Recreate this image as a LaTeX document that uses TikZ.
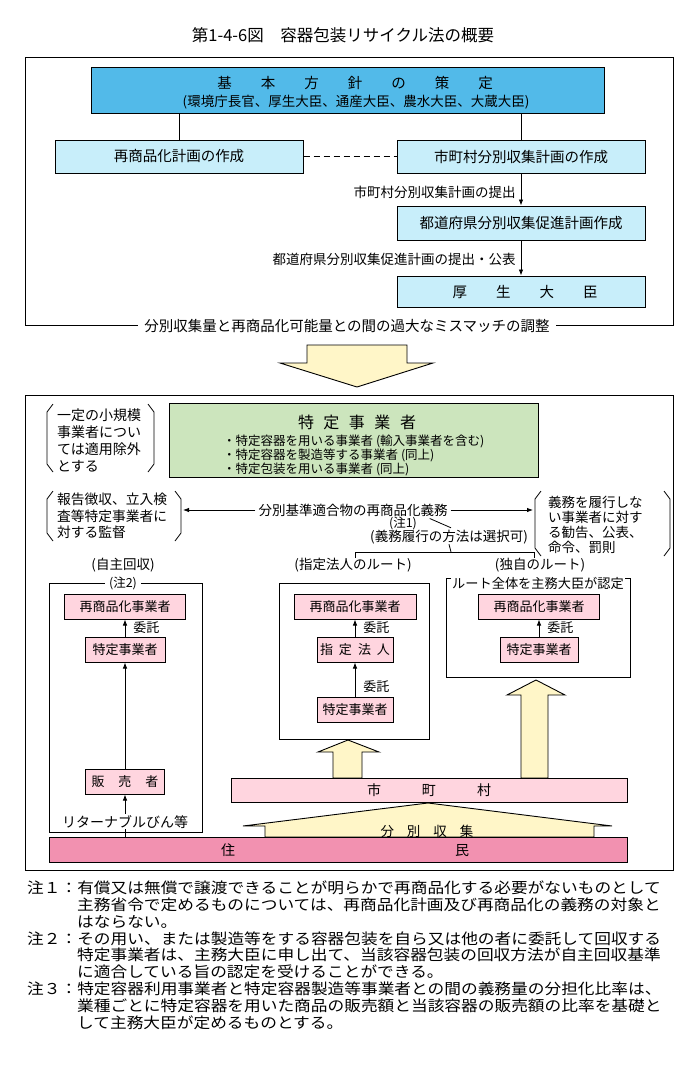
\documentclass[tikz,border=0pt]{standalone}
\usepackage{fontspec}
\setmainfont{Noto Sans CJK JP}
\newfontfamily\notefont[FakeStretch=1.113]{Noto Sans CJK JP}
\usetikzlibrary{arrows.meta,calc}
\definecolor{topblue}{HTML}{52BAE9}
\definecolor{ltblue}{HTML}{C8EEFA}
\definecolor{ltgreen}{HTML}{CCE5BD}
\definecolor{ltpink}{HTML}{FFD5DF}
\definecolor{dkpink}{HTML}{F291B0}
\definecolor{cream}{HTML}{FFF6C8}
\newcommand{\jfs}[1]{\fontsize{#1}{#1}\selectfont}
\begin{document}
\begin{tikzpicture}[x=1pt,y=-1pt,
  tx/.style={inner sep=0pt, font=\jfs{13.5}},
  bx/.style={draw, line width=1pt, inner sep=0pt},
  blbx/.style={bx, fill=ltblue, minimum width=248pt, font=\jfs{14.5}},
  pbx/.style={bx, fill=ltpink, minimum height=25pt, font=\jfs{13}},
  arr/.style={-{Latex[length=6pt,width=4.5pt]}, line width=0.8pt},
  ln/.style={line width=0.8pt},
  frame/.style={line width=1pt},
  fat/.style={draw, line width=0.9pt, fill=cream},
  note/.style={tx, anchor=west, font=\notefont\jfs{15}}]
\useasboundingbox (0,0) rectangle (698,1077);

% title
\node[tx, font=\jfs{16.5}] (title) at (343,35) {第1-4-6図　容器包装リサイクル法の概要};

% ---------- upper frame ----------
\draw[frame] (25,57) rectangle (673,325);
\node[tx, fill=white, inner xsep=6pt, inner ysep=2pt, font=\jfs{14.5}] (cap) at (347,326) {分別収集量と再商品化可能量との間の過大なミスマッチの調整};

\node[bx, fill=topblue, minimum width=513pt, minimum height=46pt] (kihon) at (347.5,90) {};
\node[tx, font=\jfs{14.5}] (kihon1) at (355,83) {基　　本　　方　　針　　の　　策　　定};
\node[tx] (kihon2) at (356,102) {(環境庁長官、厚生大臣、通産大臣、農水大臣、大蔵大臣)};

\node[blbx, minimum height=33pt] (saisho) at (179,156.5) {再商品化計画の作成};
\node[blbx, minimum height=33pt] (shicho) at (521,156.5) {市町村分別収集計画の作成};
\node[blbx, minimum height=34pt] (todo) at (521,223) {都道府県分別収集促進計画作成};
\node[blbx, minimum height=31pt] (kosei) at (521,291.5) {\hspace{8pt}厚　　生　　大　　臣};

\draw[ln] (saisho.north) -- (saisho.north |- kihon.south);
\draw[ln] (shicho.north) -- (shicho.north |- kihon.south);
\draw[ln, dash pattern=on 6pt off 4pt] (saisho.east) -- (shicho.west);
\draw[arr] (shicho.south) -- (todo.north)
  node[tx, pos=0.6, left=5pt] (lbl1) {市町村分別収集計画の提出};
\draw[arr] (todo.south) -- (kosei.north)
  node[tx, pos=0.55, left=5pt] (lbl2) {都道府県分別収集促進計画の提出・公表};

% big down arrow
\draw[fat] (307,345) -- (407,345) -- (407,363) -- (433,363) -- (357,387) -- (280,363) -- (307,363) -- cycle;

% ---------- lower frame ----------
\draw[frame] (25,395) rectangle (673,870);

% exemption note
\draw[ln] (53,404) -- (47,412) -- (47,464) -- (53,472);
\draw[ln] (148,404) -- (154,412) -- (154,464) -- (148,472);
\node[tx, anchor=west, align=left, font=\fontsize{14}{17}\selectfont] (exempt) at (57,440.5)
  {一定の小規模\\事業者につい\\ては適用除外\\とする};

% specified business box
\node[bx, fill=ltgreen, minimum width=369pt, minimum height=74pt] (toku) at (353.5,440) {};
\node[tx, font=\jfs{16}] (tokut) at (357,422) {特\kern9.5pt 定\kern9.5pt 事\kern9.5pt 業\kern9.5pt 者};
\node[tx, anchor=west, font=\jfs{12.5}] (b1) at (223,441) {・特定容器を用いる事業者 (輸入事業者を含む)};
\node[tx, anchor=west, font=\jfs{12.5}] (b2) at (223,455) {・特定容器を製造等する事業者 (同上)};
\node[tx, anchor=west, font=\jfs{12.5}] (b3) at (223,469) {・特定包装を用いる事業者 (同上)};

% supervision note
\draw[ln] (53,491) -- (47,499) -- (47,533) -- (53,541);
\draw[ln] (175,491) -- (181,499) -- (181,533) -- (175,541);
\node[tx, anchor=west, align=left, font=\fontsize{13.75}{16.5}\selectfont] (kantoku) at (57,516)
  {報告徴収、立入検\\査等特定事業者に\\対する監督};

% penalty note
\draw[ln] (541,491) -- (535,499) -- (535,548) -- (541,556);
\draw[ln] (664,491) -- (670,499) -- (670,548) -- (664,556);
\node[tx, anchor=west, align=left, font=\fontsize{13.5}{15}\selectfont] (bassoku) at (548,524.5)
  {義務を履行しな\\い事業者に対す\\る勧告、公表、\\命令、罰則};

% obligation
\node[tx] (gimu) at (353,510) {分別基準適合物の再商品化義務};
\coordinate (brL) at (183,510);
\coordinate (brR) at (533,510);
\draw[arr, shorten <=3pt] (gimu.west) -- (brL);
\draw[arr, shorten <=3pt] (gimu.east) -- (brR);
\node[tx, font=\jfs{12.5}] (chu1) at (403,523) {(注1)};
\node[tx] (sentaku) at (449,537) {(義務履行の方法は選択可)};
\draw[ln] ($(gimu.south east)+(-18,2)$) -- ($(sentaku.north)+(2,-2)$);
\coordinate (brj) at (451,552);
\draw[ln] (sentaku.south) -- (brj);
\draw[ln] (355,558) -- (355,552) -- (534,552) -- (534,558);

% route labels
\node[tx] (jishu) at (123,565) {(自主回収)};
\node[tx] (shitei) at (353,565) {(指定法人のルート)};
\node[tx] (dokuji) at (540,565) {(独自のルート)};

% left frame (self collection)
\draw[frame] (49,583) rectangle (202,832);
\node[tx, fill=white, inner xsep=4pt, inner ysep=1pt, font=\jfs{12.5}] (chu2) at (123,583) {(注2)};
% middle frame
\draw[frame] (279,583) rectangle (429,739);
% right frame
\draw[frame] (451,578) -- (446,578) -- (446,677) -- (630,677) -- (630,578) -- (625,578);
\node[tx, font=\jfs{13.2}] (nintei) at (538,583) {ルート全体を主務大臣が認定};

% left column
\node[pbx, minimum width=121pt] (L1) at (125,606.5) {再商品化事業者};
\node[pbx, minimum width=80pt] (L2) at (125,649.5) {特定事業者};
\node[pbx, minimum width=79pt] (L3) at (125,781.5) {販\kern14pt 売\kern14pt 者};
\draw[arr] (L2.north) -- (L1.south) node[tx, midway, right=8pt, font=\jfs{13}] (i1) {委託};
\draw[arr] (L3.north) -- (L2.south);

% middle column
\node[pbx, minimum width=122pt] (M1) at (355,606.5) {再商品化事業者};
\node[pbx, minimum width=76pt] (M2) at (355,649.5) {指\kern6pt 定\kern6pt 法\kern6pt 人};
\node[pbx, minimum width=76pt] (M3) at (355,709.5) {特定事業者};
\draw[arr] (M2.north) -- (M1.south) node[tx, midway, right=8pt, font=\jfs{13}] (i2) {委託};
\draw[arr] (M3.north) -- (M2.south) node[tx, pos=0.3, right=8pt, font=\jfs{13}] (i3) {委託};

% right column
\node[pbx, minimum width=121pt] (R1) at (539,606.5) {再商品化事業者};
\node[pbx, minimum width=78pt] (R2) at (539,649.5) {特定事業者};
\draw[arr] (R2.north) -- (R1.south) node[tx, midway, right=8pt, font=\jfs{13}] (i4) {委託};

% fat up arrows
\draw[fat] (333,778) -- (333,752) -- (318,752) -- (348,740) -- (379,752) -- (362,752) -- (362,778) -- cycle;
\draw[fat] (521,778) -- (521,695) -- (507,695) -- (536,680) -- (565,695) -- (548,695) -- (548,778) -- cycle;

% roof (separate collection)
\draw[fat] (265,837) -- (265,826) -- (243,826) -- (428,803) -- (612,826) -- (594,826) -- (594,837) -- cycle;
\node[tx] (bunbetsu) at (427,831) {分\kern13pt 別\kern13pt 収\kern13pt 集};

% municipality bar
\node[bx, fill=ltpink, minimum width=396pt, minimum height=24pt, font=\jfs{14}] (shi) at (429,790) {市\kern41pt 町\kern41pt 村};

% residents bar
\node[bx, fill=dkpink, minimum width=578pt, minimum height=25pt] (jumin) at (338,849.5) {};
\node[tx, font=\jfs{14}] (jumint) at (345,850) {住\kern220pt 民};

\draw[arr] (jumin.north -| L3.south) -- (L3.south)
  node[tx, pos=0.35, fill=white, inner xsep=2pt, inner ysep=1pt, font=\jfs{14}] (ret) {リターナブルびん等};

% ---------- notes ----------
\node[note] (n1) at (27,888) {注１：有償又は無償で譲渡できることが明らかで再商品化する必要がないものとして};
\node[note] (n2) at (77,904.8) {主務省令で定めるものについては、再商品化計画及び再商品化の義務の対象と};
\node[note] (n3) at (77,921.6) {はならない。};
\node[note] (n4) at (27,938.4) {注２：その用い、または製造等をする容器包装を自ら又は他の者に委託して回収する};
\node[note] (n5) at (77,955.2) {特定事業者は、主務大臣に申し出て、当該容器包装の回収方法が自主回収基準};
\node[note] (n6) at (77,972) {に適合している旨の認定を受けることができる。};
\node[note] (n7) at (27,988.8) {注３：特定容器利用事業者と特定容器製造等事業者との間の義務量の分担化比率は、};
\node[note] (n8) at (77,1005.6) {業種ごとに特定容器を用いた商品の販売額と当該容器の販売額の比率を基礎と};
\node[note] (n9) at (77,1022.4) {して主務大臣が定めるものとする。};
\end{tikzpicture}
\end{document}
